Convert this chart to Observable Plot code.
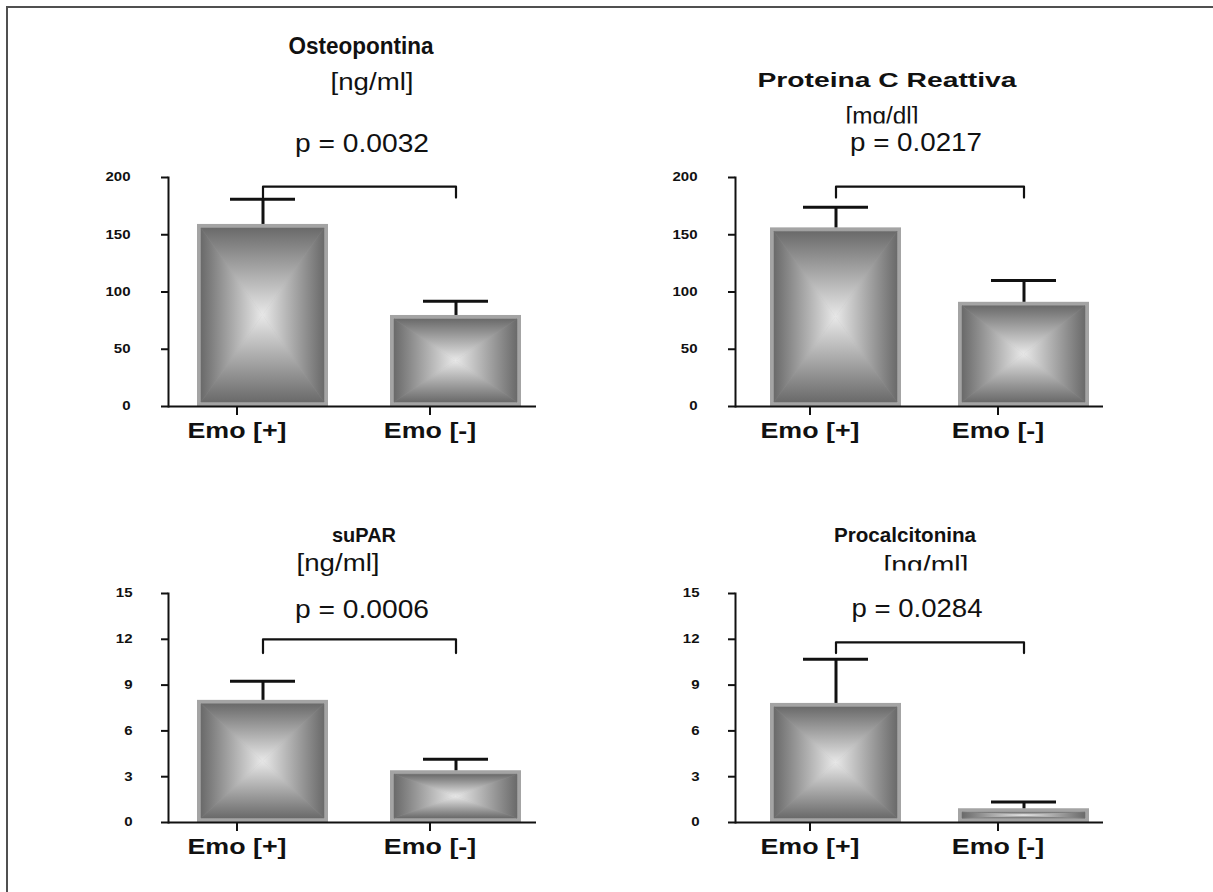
<!DOCTYPE html>
<html><head><meta charset="utf-8">
<script src="https://cdn.jsdelivr.net/npm/d3@7"></script>
<script src="https://cdn.jsdelivr.net/npm/@observablehq/plot@0.6"></script>
<style>
body{margin:0;background:#fff;}
#page{position:relative;width:1213px;height:892px;overflow:hidden;background:#fff;font-family:"Liberation Sans",Arial,sans-serif;}
#border{position:absolute;left:6px;top:6px;width:1300px;height:1000px;border-top:2px solid #505050;border-left:2px solid #505050;}
.panel{position:absolute;}
#overlay{position:absolute;left:0;top:0;pointer-events:none;}
</style></head><body><div id="page"><div id="border"></div></div>
<script>
// ---- data ----
const groups = ["Emo [+]", "Emo [-]"];
const titles = ["Osteopontina", "Proteina C Reattiva", "suPAR", "Procalcitonina"];
const units = ["[ng/ml]", "[mg/dl]", "[ng/ml]", "[ng/ml]"];
const pValues = ["p = 0.0032", "p = 0.0217", "p = 0.0006", "p = 0.0284"];
const means = [[159, 79.5], [156, 91], [8.0, 3.39], [7.8, 0.9]];
const upperErr = [[181, 92], [174, 110], [9.25, 4.15], [10.7, 1.35]];
const bracketTop = [192, 192, 12.0, 11.8];
const bracketLeg = [182.5, 182.5, 11.1, 11.1];
const yMax = [200, 200, 15, 15];
const yTicks = [[0, 50, 100, 150, 200], [0, 50, 100, 150, 200], [0, 3, 6, 9, 12, 15], [0, 3, 6, 9, 12, 15]];

// ---- layout (pixels) ----
const layout = [
  {left: 0, top: 0, c: [262.5, 456], pad: 31},
  {left: 567, top: 0, c: [268, 456], pad: 31},
  {left: 0, top: 416, c: [262.5, 456], pad: 29},
  {left: 567, top: 416, c: [268, 456], pad: 29}
];
// header text: [cx, baseline, fontSize, weight, width, clipBelow]
const headLayout = [
  [[361, 54, 23, "bold", 145], [372, 90, 23, "normal", 83], [362, 152, 26, "normal", 134]],
  [[887, 87, 21, "bold", 259], [882, 124, 23, "normal", 73, 123.5], [916, 151, 26, "normal", 132]],
  [[364, 542, 21, "bold", 64], [338, 571, 23, "normal", 83], [362, 618, 26, "normal", 134]],
  [[905, 542, 21, "bold", 142], [926, 573, 23, "normal", 85, 570.5], [917, 617, 26, "normal", 131]]
];

const svgNS = "http://www.w3.org/2000/svg";
const page = document.getElementById("page");
const bw = 131;

function stretchTexts(nodes, s) {
  nodes.forEach(t => {
    const x = +(t.getAttribute("x") || 0);
    const tr = t.getAttribute("transform") || "";
    t.setAttribute("transform", `${tr} translate(${x},0) scale(${s},1) translate(${-x},0)`);
  });
}

function pyramid(svg, id) {
  const defs = document.createElementNS(svgNS, "defs");
  const dirs = {T: [0, 0, 0, 1], B: [0, 1, 0, 0], L: [0, 0, 1, 0], R: [1, 0, 0, 0]};
  for (const [k, [x1, y1, x2, y2]] of Object.entries(dirs)) {
    const g = document.createElementNS(svgNS, "linearGradient");
    g.setAttribute("id", id + k);
    g.setAttribute("x1", x1); g.setAttribute("y1", y1);
    g.setAttribute("x2", x2); g.setAttribute("y2", y2);
    [[0, "#6a6a6a"], [1, "#e8e8e8"]].forEach(([o, c]) => {
      const s = document.createElementNS(svgNS, "stop");
      s.setAttribute("offset", o); s.setAttribute("stop-color", c);
      g.appendChild(s);
    });
    defs.appendChild(g);
  }
  svg.insertBefore(defs, svg.firstChild);
  svg.querySelectorAll('g[aria-label="bar"] rect').forEach(r => {
    const x = +r.getAttribute("x"), y = +r.getAttribute("y");
    const w = +r.getAttribute("width"), h = +r.getAttribute("height");
    const ins = 4;
    const x0 = x + ins, y0 = y + ins, x1 = x + w - ins, y1 = y + h - ins;
    const cx = (x0 + x1) / 2, cy = (y0 + y1) / 2;
    const polys = [
      ["T", [[x0, y0], [x1, y0], [cx, cy]]],
      ["B", [[x0, y1], [x1, y1], [cx, cy]]],
      ["L", [[x0, y0], [x0, y1], [cx, cy]]],
      ["R", [[x1, y0], [x1, y1], [cx, cy]]]
    ];
    let after = r.nextSibling;
    polys.forEach(([k, pts]) => {
      const p = document.createElementNS(svgNS, "polygon");
      p.setAttribute("points", pts.map(d => d.join(",")).join(" "));
      p.setAttribute("fill", `url(#${id}${k})`);
      p.setAttribute("stroke", `url(#${id}${k})`);
      p.setAttribute("stroke-width", "0.5");
      r.parentNode.insertBefore(p, after);
    });
  });
}

titles.forEach((title, i) => {
  const L = layout[i];
  const rows = groups.map((g, j) => ({group: g, mean: means[i][j], err: upperErr[i][j]}));
  const bracket = [
    {group: groups[0], v: bracketLeg[i]},
    {group: groups[0], v: bracketTop[i]},
    {group: groups[1], v: bracketTop[i]},
    {group: groups[1], v: bracketLeg[i]}
  ];
  const step = L.c[1] - L.c[0];
  const pi = 1 - bw / step;
  const chart = Plot.plot({
    width: 600, height: 450,
    marginLeft: 168, marginTop: 177, marginBottom: 44, marginRight: 64,
    style: {fontFamily: "'Liberation Sans', Arial, sans-serif", background: "transparent", overflow: "visible", color: "#111"},
    x: {domain: groups, range: [L.c[0] - step / 2, L.c[1] + step / 2], paddingInner: pi, paddingOuter: pi / 2, label: null},
    y: {domain: [0, yMax[i]], label: null},
    marks: [
      Plot.barY(rows, {x: "group", y: "mean", fill: "#a4a4a4"}),
      Plot.ruleX(rows, {x: "group", y1: "mean", y2: "err", stroke: "#111", strokeWidth: 3}),
      Plot.tickY(rows, {x: "group", y: "err", stroke: "#111", strokeWidth: 3, insetLeft: 33, insetRight: 33}),
      Plot.line(bracket, {x: "group", y: "v", stroke: "#111", strokeWidth: 2.2}),
      Plot.ruleY([0], {stroke: "#111", strokeWidth: 2}),
      Plot.frame({anchor: "left", stroke: "#111", strokeWidth: 2}),
      Plot.axisY({ticks: yTicks[i], tickSize: 7, tickPadding: L.pad, fontSize: 12, fontWeight: "bold", strokeWidth: 2, label: null}),
      Plot.axisX({tickSize: 9, tickPadding: 7, fontSize: 22, fontWeight: "bold", strokeWidth: 2, dx: -26, label: null})
    ]
  });
  const svg = chart.tagName.toLowerCase() === "svg" ? chart : chart.querySelector("svg");
  pyramid(svg, "pg" + i);
  stretchTexts(svg.querySelectorAll('g[aria-label="y-axis tick label"] text'), 1.25);
  stretchTexts(svg.querySelectorAll('g[aria-label="x-axis tick label"] text'), 1.22);
  const wrap = document.createElement("div");
  wrap.className = "panel";
  wrap.style.left = L.left + "px";
  wrap.style.top = L.top + "px";
  wrap.appendChild(chart);
  page.appendChild(wrap);
});

// header texts (titles, units, p values)
const ov = document.createElementNS(svgNS, "svg");
ov.setAttribute("id", "overlay");
ov.setAttribute("width", 1213); ov.setAttribute("height", 892);
ov.setAttribute("font-family", "'Liberation Sans', Arial, sans-serif");
const ovDefs = document.createElementNS(svgNS, "defs");
ov.appendChild(ovDefs);
titles.forEach((title, i) => {
  const texts = [title, units[i], pValues[i]];
  texts.forEach((s, k) => {
    const [cx, by, fs, fw, w, clip] = headLayout[i][k];
    const t = document.createElementNS(svgNS, "text");
    t.textContent = s;
    t.setAttribute("x", cx - w / 2);
    t.setAttribute("y", by);
    t.setAttribute("font-size", fs);
    t.setAttribute("font-weight", fw);
    t.setAttribute("fill", "#111");
    t.setAttribute("textLength", w);
    t.setAttribute("lengthAdjust", "spacingAndGlyphs");
    if (clip) {
      const cp = document.createElementNS(svgNS, "clipPath");
      cp.setAttribute("id", "clip" + i + k);
      const r = document.createElementNS(svgNS, "rect");
      r.setAttribute("x", 0); r.setAttribute("y", 0);
      r.setAttribute("width", 1213); r.setAttribute("height", clip);
      cp.appendChild(r);
      ovDefs.appendChild(cp);
      t.setAttribute("clip-path", `url(#clip${i}${k})`);
    }
    ov.appendChild(t);
  });
});
page.appendChild(ov);
</script>
</body></html>
